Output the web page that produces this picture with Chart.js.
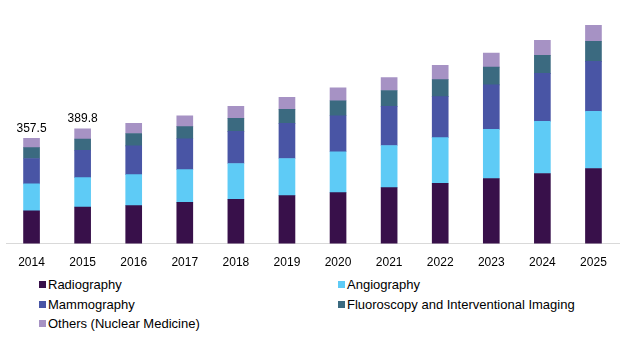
<!DOCTYPE html>
<html>
<head>
<meta charset="utf-8">
<script src="https://cdn.jsdelivr.net/npm/chart.js@4"></script>
<style>
  body { margin: 0; background: #fff; }
  #wrap { position: relative; width: 632px; height: 351px; background: #fff; font-family: "Liberation Sans", Arial, sans-serif; }
  #chart { position: absolute; left: 0; top: 0; }
  .legend { position: absolute; font-size: 13px; color: #000; white-space: nowrap; line-height: 16px; }
  .legend .sw { display: inline-block; width: 7px; height: 7px; margin-right: 2px; vertical-align: 1px; }
</style>
</head>
<body>
<div id="wrap">
  <canvas id="chart" width="632" height="274"></canvas>
  <div id="legend"></div>
</div>
<script>
const years = ['2014', '2015', '2016', '2017', '2018', '2019', '2020', '2021', '2022', '2023', '2024', '2025'];

const radiography = [111, 124, 129, 140, 150, 163, 173, 190, 205, 221, 238, 255];
const angiography = [92, 100, 105, 111, 122, 126, 139, 143, 155, 167, 177, 194];
const mammography = [86, 93, 98, 105, 109, 119, 122, 133, 139, 151, 163, 170];
const fluoroscopy = [37, 38, 42, 41, 44, 48, 51, 54, 58, 60, 61, 68];
const others = [31.5, 34.8, 34, 37, 41, 41, 44, 44, 48, 48, 51, 54];

// only the first two years carry a total label
const totalLabels = ['357.5', '389.8', null, null, null, null, null, null, null, null, null, null];

const series = [
    { label: 'Radiography', data: radiography, color: '#38104a' },
    { label: 'Angiography', data: angiography, color: '#5ecbf6' },
    { label: 'Mammography', data: mammography, color: '#4955a5' },
    { label: 'Fluoroscopy and Interventional Imaging', data: fluoroscopy, color: '#3b6a80' },
    { label: 'Others (Nuclear  Medicine)', data: others, color: '#a692c4' }
];

const totalsPlugin = {
    id: 'totals',
    afterDatasetsDraw(chart) {
        const ctx = chart.ctx;
        const top = chart.getDatasetMeta(chart.data.datasets.length - 1);
        ctx.save();
        ctx.font = '12px "Liberation Sans", Arial, sans-serif';
        ctx.fillStyle = '#000';
        ctx.textAlign = 'center';
        ctx.textBaseline = 'bottom';
        totalLabels.forEach((t, i) => {
            if (!t) return;
            const bar = top.data[i];
            ctx.fillText(t, bar.x, bar.y - 4);
        });
        ctx.restore();
    }
};

new Chart(document.getElementById('chart').getContext('2d'), {
    type: 'bar',
    data: {
        labels: years,
        datasets: series.map(s => ({
            label: s.label,
            data: s.data,
            backgroundColor: s.color,
            borderWidth: 0,
            barThickness: 16
        }))
    },
    options: {
        responsive: false,
        animation: false,
        layout: { padding: { left: 6, right: 13, top: 8, bottom: 0 } },
        plugins: { legend: { display: false }, tooltip: { enabled: false } },
        scales: {
            x: {
                stacked: true,
                grid: { display: false },
                border: { color: '#d9d9d9', width: 1 },
                ticks: { color: '#000', padding: 4, font: { family: '"Liberation Sans", Arial, sans-serif', size: 12 } }
            },
            y: {
                stacked: true,
                display: false,
                min: 0,
                max: 800
            }
        }
    },
    plugins: [totalsPlugin]
});

const legendPos = [
    { left: 39, top: 277 }, { left: 338, top: 277 },
    { left: 39, top: 296.5 }, { left: 338, top: 296.5 },
    { left: 39, top: 316 }
];
document.getElementById('legend').innerHTML = series.map((s, i) => `
    <div class="legend" style="left:${legendPos[i].left}px; top:${legendPos[i].top}px;">
        <span class="sw" style="background:${s.color};"></span>${s.label}
    </div>
`).join('');
</script>
</body>
</html>
